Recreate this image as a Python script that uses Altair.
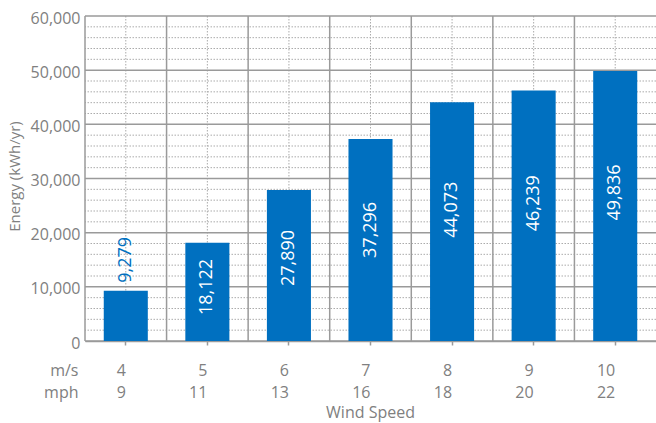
import altair as alt
import pandas as pd

# Wind speed classes (two unit systems) and annual energy output
speed_ms = ["4", "5", "6", "7", "8", "9", "10"]
speed_mph = ["9", "11", "13", "16", "18", "20", "22"]
energy = [9279, 18122, 27890, 37296, 44073, 46239, 49836]

# y-axis ticks: labelled major lines and unlabelled minor lines
major_ticks = [0, 10000, 20000, 30000, 40000, 50000, 60000]
minor_ticks = [v + s for v in major_ticks[:-1] for s in (2000, 4000, 6000, 8000)]

speed = [f"{a}|{b}" for a, b in zip(speed_ms, speed_mph)]
df = pd.DataFrame({"speed": speed, "energy": energy})
major_df = pd.DataFrame({"v": major_ticks})
minor_df = pd.DataFrame({"v": minor_ticks})

BLUE = "#0070c0"
GREY = "#808080"
MAJOR = "#9a9a9a"
MINOR = "#ababab"
FONT = "Open Sans"
Y_TITLE = "Energy (kWh/yr)"

band = alt.Scale(paddingInner=0, paddingOuter=0)
ydom = alt.Scale(domain=[0, 60000], nice=False)

x_axis = alt.Axis(
    labelExpr="split(datum.label, '|')",
    labelAngle=0,
    labelFont=FONT,
    labelFontSize=16,
    labelColor=GREY,
    labelBaseline="top",
    labelLineHeight=22,
    labelPadding=17,
    labelOverlap=False,
    ticks=True,
    tickSize=4,
    tickColor=MAJOR,
    tickWidth=1.5,
    domain=True,
    domainColor=MAJOR,
    domainWidth=1.5,
    grid=False,
    title=["m/s", "mph"],
    titleFont=FONT,
    titleFontSize=16,
    titleFontWeight="normal",
    titleColor=GREY,
    titleAngle=0,
    titleAlign="right",
    titleBaseline="top",
    titleLineHeight=22,
    titleX=-7,
    titleY=21,
)

y_axis = alt.Axis(
    values=major_ticks,
    labelExpr="format(datum.value, ',.0f')",
    labelFont=FONT,
    labelFontSize=16,
    labelColor=GREY,
    labelPadding=5,
    labelOffset=2,
    labelOverlap=False,
    labelFlush=False,
    ticks=False,
    domain=False,
    grid=False,
    title=Y_TITLE,
    titleFont=FONT,
    titleFontSize=15,
    titleFontWeight="normal",
    titleColor=GREY,
    titleAngle=270,
    titleBaseline="alphabetic",
    titleAlign="center",
    titleX=-66,
    titleY=160,
)

base = alt.Chart(df)

# horizontal grid: dotted minor lines, solid major lines
minor_grid = alt.Chart(minor_df).mark_rule(
    color=MINOR, strokeWidth=1, strokeDash=[1.5, 1.5]
).encode(y=alt.Y("v:Q", scale=ydom, title=Y_TITLE))
major_grid = alt.Chart(major_df).mark_rule(color=MAJOR, strokeWidth=1.5).encode(
    y=alt.Y("v:Q", scale=ydom, title=Y_TITLE)
)

# vertical grid: solid lines on class boundaries, dotted lines through class centres
edges = base.mark_rule(color=MAJOR, strokeWidth=1.5).encode(
    x=alt.X("speed:N", sort=speed, scale=band, bandPosition=0)
)
centres = base.mark_rule(color=MINOR, strokeWidth=1, strokeDash=[1.5, 1.5]).encode(
    x=alt.X("speed:N", sort=speed, scale=band, bandPosition=0.5)
)

bars = base.mark_bar(color=BLUE, width=alt.RelativeBandSize(0.54)).encode(
    x=alt.X("speed:N", sort=speed, scale=band, axis=x_axis),
    y=alt.Y("energy:Q", scale=ydom, axis=y_axis),
)

inside = (
    base.transform_filter("datum.energy >= 10000")
    .transform_calculate(pos="datum.energy * 0.55")
    .mark_text(angle=270, align="center", baseline="middle", color="white",
               font=FONT, fontSize=18)
    .encode(
        x=alt.X("speed:N", sort=speed, scale=band),
        y=alt.Y("pos:Q", scale=ydom, title=Y_TITLE),
        text=alt.Text("energy:Q", format=","),
    )
)

outside = (
    base.transform_filter("datum.energy < 10000")
    .mark_text(angle=270, align="left", baseline="middle", dx=8, color=BLUE,
               font=FONT, fontSize=18)
    .encode(
        x=alt.X("speed:N", sort=speed, scale=band),
        y=alt.Y("energy:Q", scale=ydom, title=Y_TITLE),
        text=alt.Text("energy:Q", format=","),
    )
)

chart = (
    alt.layer(minor_grid, centres, major_grid, edges, bars, inside, outside)
    .properties(
        width=571,
        height=325,
        padding={"left": 85, "top": 16, "right": 0, "bottom": 82},
        autosize=alt.AutoSizeParams(type="none"),
        title=alt.TitleParams(
            "Wind Speed", orient="bottom", anchor="middle", frame="group",
            font=FONT, fontSize=16, fontWeight="normal", color=GREY, offset=5,
        ),
    )
    .configure_view(stroke=None)
)

chart.save("out.html", embed_options={"renderer": "svg", "actions": False})
